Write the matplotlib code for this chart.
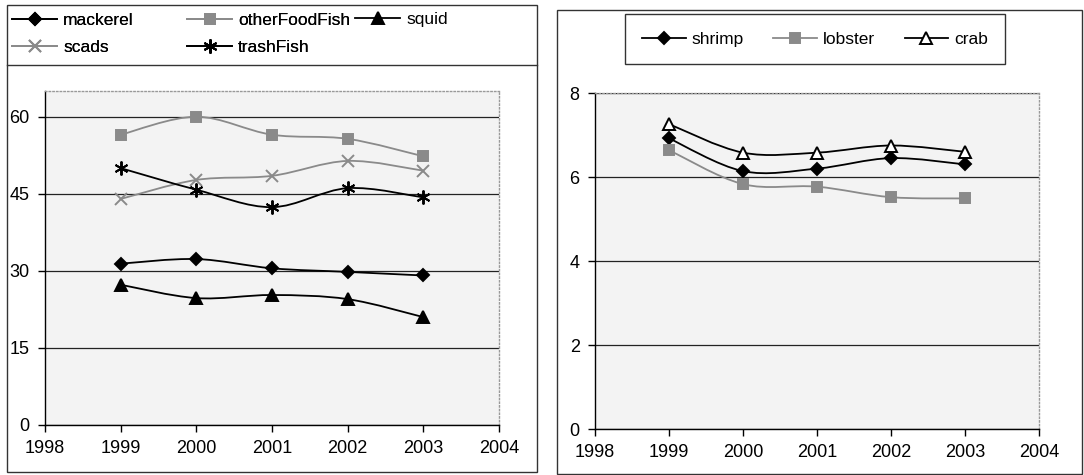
import matplotlib.pyplot as plt
from matplotlib.path import Path
from matplotlib.patches import PathPatch, Rectangle
from matplotlib.lines import Line2D

plt.rcParams['font.family'] = ['Liberation Sans', 'DejaVu Sans']

years = [1999, 2000, 2001, 2002, 2003]

# left chart
mackerel = [31.4, 32.3, 30.5, 29.8, 29.1]
other_food_fish = [56.5, 60.0, 56.5, 55.7, 52.3]
squid = [27.3, 24.7, 25.3, 24.5, 21.0]
scads = [44.0, 47.7, 48.5, 51.4, 49.5]
trash_fish = [50.0, 45.8, 42.4, 46.1, 44.3]

# right chart
shrimp = [6.92, 6.14, 6.20, 6.45, 6.30]
lobster = [6.64, 5.83, 5.77, 5.52, 5.49]
crab = [7.26, 6.58, 6.58, 6.75, 6.60]

GRAY = '#8a8a8a'
STAR = (6, 2, 0)


def smooth_path(x, y):
    # Excel-style smoothed line: cubic Bezier segments through the points
    pts = list(zip(x, y))
    n = len(pts)
    verts = [pts[0]]
    codes = [Path.MOVETO]
    for i in range(n - 1):
        p0 = pts[max(i - 1, 0)]
        p1 = pts[i]
        p2 = pts[i + 1]
        p3 = pts[min(i + 2, n - 1)]
        c1 = (p1[0] + (p2[0] - p0[0]) / 6, p1[1] + (p2[1] - p0[1]) / 6)
        c2 = (p2[0] - (p3[0] - p1[0]) / 6, p2[1] - (p3[1] - p1[1]) / 6)
        verts += [c1, c2, p2]
        codes += [Path.CURVE4] * 3
    return Path(verts, codes)


def draw_series(ax, y, color, marker, ms, mfc, lw=1.3):
    ax.add_patch(PathPatch(smooth_path(years, y), facecolor='none',
                           edgecolor=color, lw=lw, zorder=3))
    ax.plot(years, y, linestyle='none', marker=marker, ms=ms, mfc=mfc,
            mec=color if mfc != 'white' else 'black', mew=1.4, zorder=4)
    return Line2D([], [], color=color, lw=lw, marker=marker, ms=ms,
                  mfc=mfc, mec=color if mfc != 'white' else 'black', mew=1.4)


def style_axes(ax, ymax, ystep):
    ax.set_facecolor('#f3f3f3')
    ax.set_xlim(1998, 2004)
    ax.set_ylim(0, ymax)
    ax.set_xticks(range(1998, 2005))
    ax.set_yticks([v for v in range(0, 100, ystep) if v <= ymax])
    ax.grid(axis='y', color='#222222', lw=0.9)
    ax.set_axisbelow(True)
    for s in ['top', 'right']:
        ax.spines[s].set_color('#999999')
        ax.spines[s].set_linestyle(':')
        ax.spines[s].set_linewidth(1.0)
    for s in ['left', 'bottom']:
        ax.spines[s].set_color('black')
        ax.spines[s].set_linewidth(1.0)
    ax.tick_params(direction='out', length=5, width=1.0, labelsize=13,
                   pad=6, color='black')


fig = plt.figure(figsize=(10.84, 4.75), dpi=100)

ax1 = fig.add_axes([0.0415, 0.1053, 0.4188, 0.703])
ax2 = fig.add_axes([0.5489, 0.0968, 0.4096, 0.7074])
style_axes(ax1, 65, 15)
ax1.set_yticks([0, 15, 30, 45, 60])
style_axes(ax2, 8, 2)

h_mack = draw_series(ax1, mackerel, 'black', 'D', 6, 'black')
h_other = draw_series(ax1, other_food_fish, GRAY, 's', 6.5, GRAY)
h_squid = draw_series(ax1, squid, 'black', '^', 8, 'black')
h_scads = draw_series(ax1, scads, GRAY, 'x', 8, GRAY)
h_trash = draw_series(ax1, trash_fish, 'black', STAR, 10, 'black')

h_shrimp = draw_series(ax2, shrimp, 'black', 'D', 6, 'black')
h_lob = draw_series(ax2, lobster, GRAY, 's', 6.5, GRAY)
h_crab = draw_series(ax2, crab, 'black', '^', 9, 'white')

# outer frames of the two charts
fig.patches.append(Rectangle((7 / 1084, 1 - 472 / 475), 530 / 1084, 467 / 475,
                             transform=fig.transFigure, fill=False,
                             edgecolor='#333333', lw=1.0))
fig.patches.append(Rectangle((557 / 1084, 1 - 474 / 475), 525 / 1084, 464 / 475,
                             transform=fig.transFigure, fill=False,
                             edgecolor='#333333', lw=1.0))
fig.lines.append(Line2D([7 / 1084, 537 / 1084], [1 - 65 / 475, 1 - 65 / 475],
                        transform=fig.transFigure, color='#333333', lw=1.0))

# left legend: Excel lays it out in fixed columns, so one legend per column
leg_kw = dict(frameon=False, fontsize=12.5, handlelength=2.6, labelspacing=0.7,
              handletextpad=0.35, borderpad=0, borderaxespad=0, loc='center left')
fig.add_artist(fig.legend([h_mack, h_scads], ['mackerel', 'scads'],
                          bbox_to_anchor=(12 / 1084, 1 - 34 / 475), **leg_kw))
fig.add_artist(fig.legend([h_other, h_trash], ['otherFoodFish', 'trashFish'],
                          bbox_to_anchor=(187 / 1084, 1 - 34 / 475), **leg_kw))
fig.legend([h_squid], ['squid'],
           bbox_to_anchor=(355 / 1084, 1 - 19 / 475), **leg_kw)

leg2 = fig.legend([h_shrimp, h_lob, h_crab], ['shrimp', 'lobster', 'crab'],
                  ncol=3, loc='center', bbox_to_anchor=(815 / 1084, 1 - 39 / 475),
                  frameon=True, fancybox=False, edgecolor='black', fontsize=12.5,
                  handlelength=2.5, columnspacing=1.7, handletextpad=0.35,
                  borderpad=1.0, borderaxespad=0)
leg2.get_frame().set_linewidth(1.0)

fig.savefig('out.png', dpi=100, facecolor='white')
